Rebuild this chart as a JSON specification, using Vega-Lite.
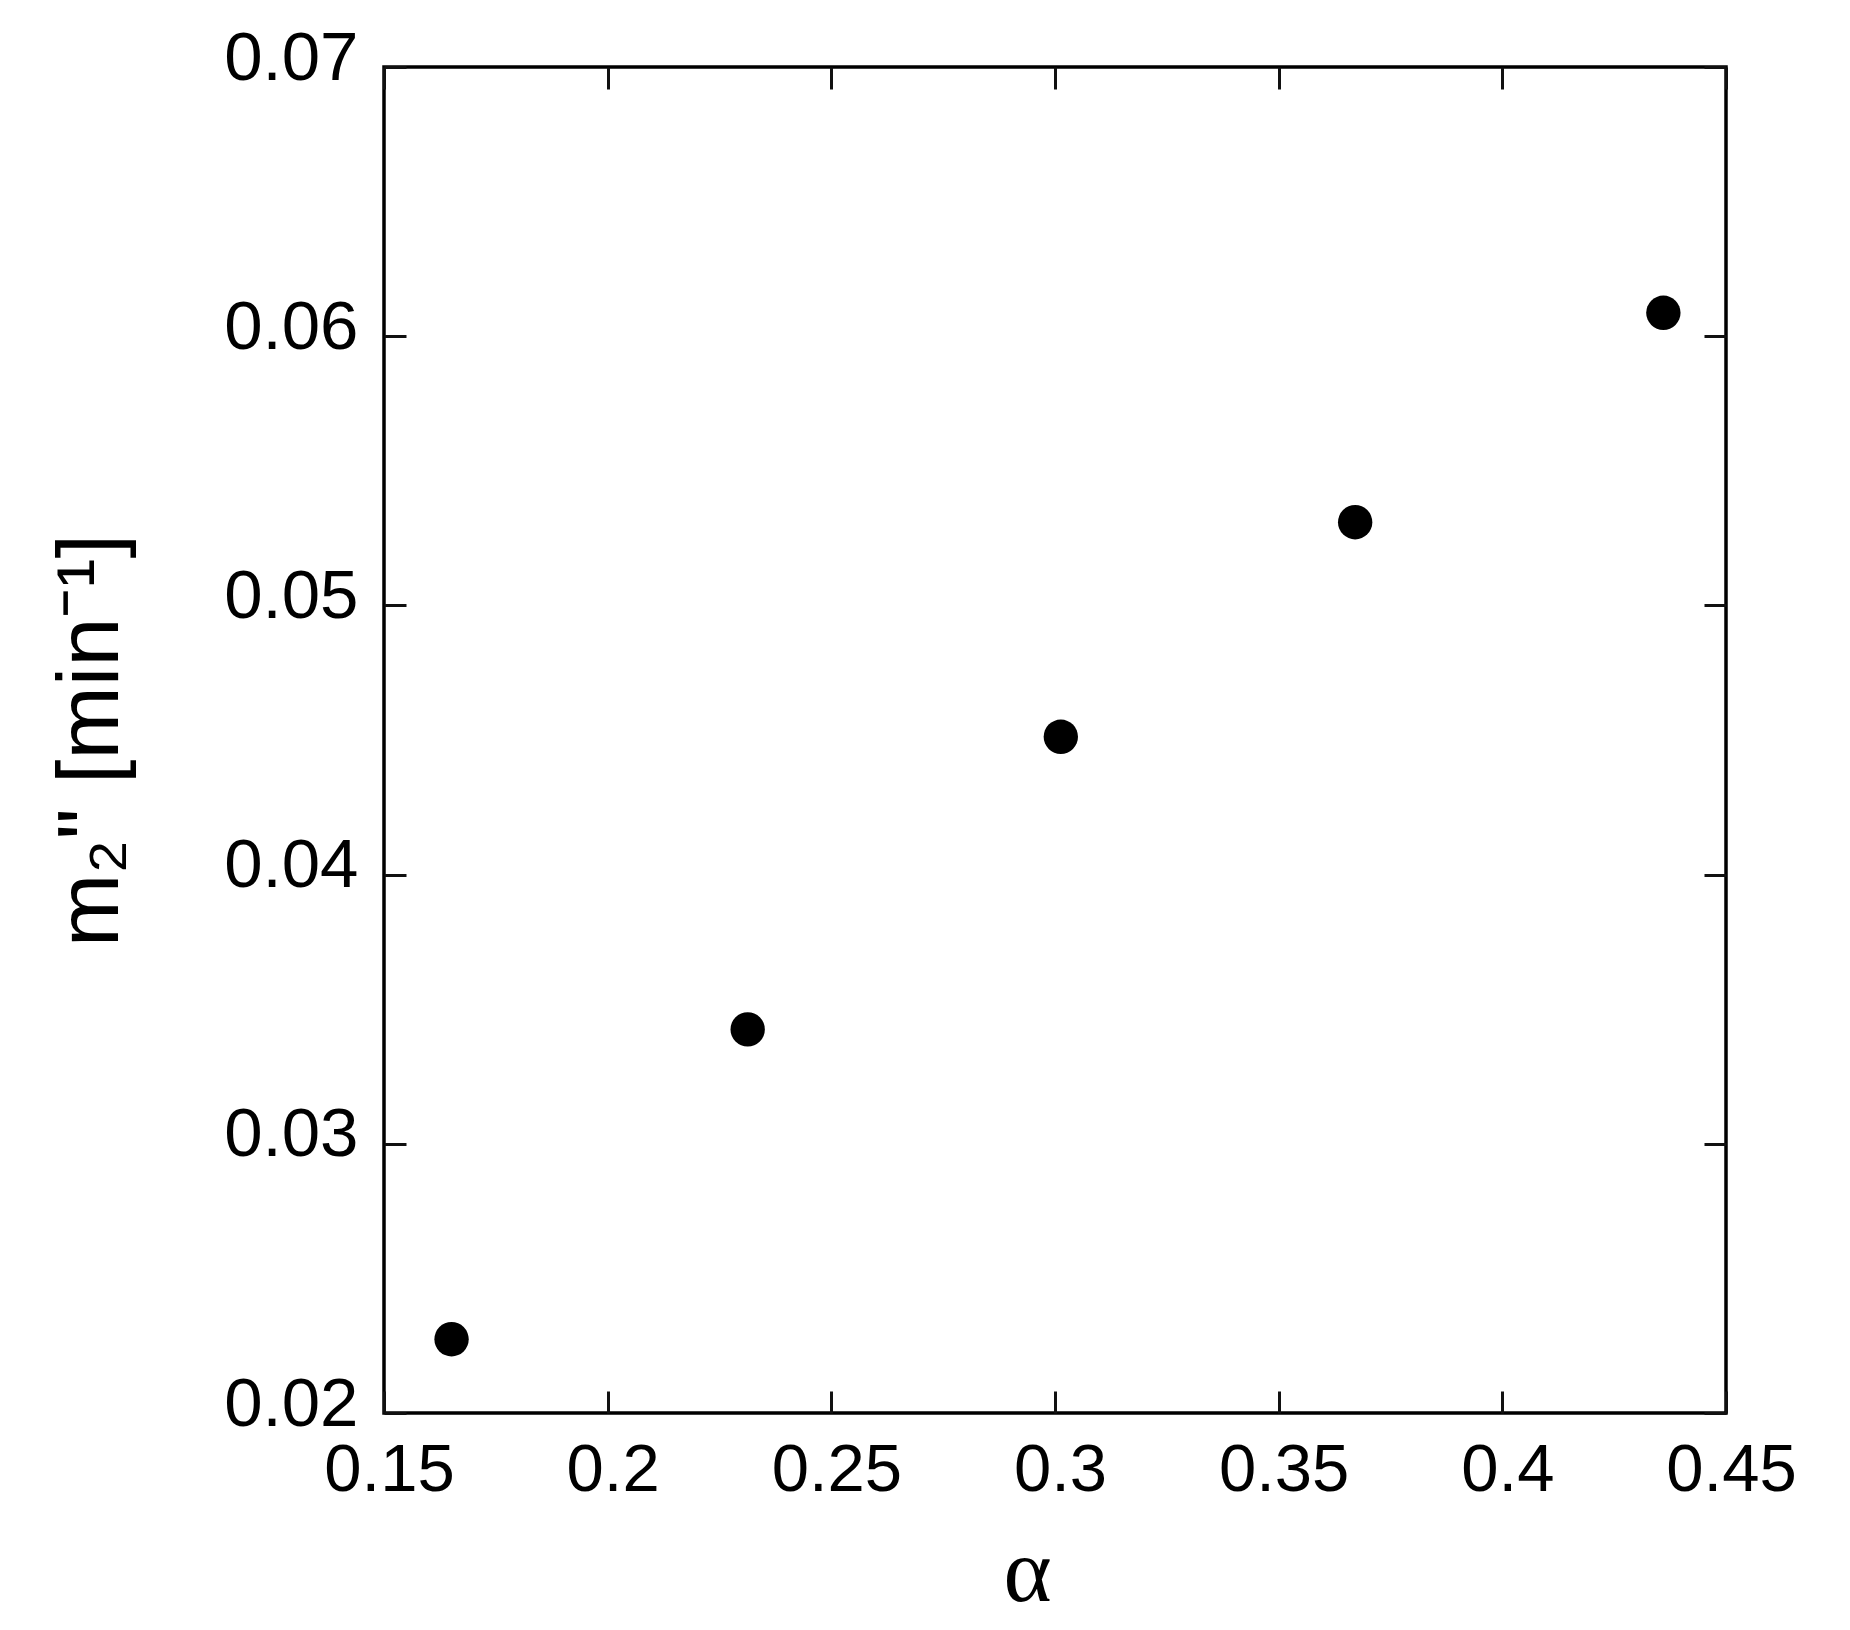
{
  "$schema": "https://vega.github.io/schema/vega-lite/v6.json",
  "autosize": {"type": "none"},
  "padding": {"left": 384, "top": 67, "right": 124, "bottom": 217},
  "width": 1342,
  "height": 1346,
  "background": "white",
  "data": {"values": [
    {"alpha": 0.1651, "m2": 0.02274},
    {"alpha": 0.2313, "m2": 0.03425},
    {"alpha": 0.3013, "m2": 0.04512},
    {"alpha": 0.3671, "m2": 0.05309},
    {"alpha": 0.4360, "m2": 0.06087}
  ]},
  "layer": [
    {
      "mark": {"type": "point", "filled": true, "shape": "circle", "size": 1180, "color": "black", "opacity": 1, "strokeWidth": 0},
      "encoding": {
        "x": {"field": "alpha", "type": "quantitative", "scale": {"domain": [0.15, 0.45], "nice": false, "zero": false},
          "axis": {"orient": "bottom", "title": "α", "values": [0.15, 0.2, 0.25, 0.3, 0.35, 0.4, 0.45], "format": "~g",
            "titleFont": "Liberation Serif", "titleFontSize": 92, "titleFontWeight": "normal", "titlePadding": 24, "titleX": 643,
            "labelFont": "Liberation Sans", "labelFontSize": 67, "labelPadding": 46, "labelOffset": 5, "labelFlush": false,
            "tickSize": -22, "tickWidth": 3, "tickColor": "#111", "domain": false, "grid": false, "labelColor": "black", "titleColor": "black"}},
        "y": {"field": "m2", "type": "quantitative", "scale": {"domain": [0.02, 0.07], "nice": false, "zero": false},
          "axis": {"orient": "left", "title": "m₂\" [min⁻¹]", "values": [0.02, 0.03, 0.04, 0.05, 0.06, 0.07], "format": "~g",
            "titleFont": "Liberation Sans", "titleFontSize": 88, "titleFontWeight": "normal", "titlePadding": 88,
            "labelFont": "Liberation Sans", "labelFontSize": 69, "labelPadding": 48, "labelOffset": -9, "labelFlush": false,
            "tickSize": -22, "tickWidth": 3, "tickColor": "#111", "domain": false, "grid": false, "labelColor": "black", "titleColor": "black"}}
      }
    },
    {
      "mark": {"type": "point", "opacity": 0},
      "encoding": {
        "x": {"field": "alpha", "type": "quantitative", "scale": {"domain": [0.15, 0.45], "nice": false, "zero": false},
          "axis": {"orient": "top", "title": null, "labels": false, "values": [0.15, 0.2, 0.25, 0.3, 0.35, 0.4, 0.45],
            "tickSize": -22, "tickWidth": 3, "tickColor": "#111", "domain": false, "grid": false}},
        "y": {"field": "m2", "type": "quantitative", "scale": {"domain": [0.02, 0.07], "nice": false, "zero": false},
          "axis": {"orient": "right", "title": null, "labels": false, "values": [0.02, 0.03, 0.04, 0.05, 0.06, 0.07],
            "tickSize": -22, "tickWidth": 3, "tickColor": "#111", "domain": false, "grid": false}}
      }
    }
  ],
  "resolve": {"axis": {"x": "independent", "y": "independent"}},
  "config": {"view": {"stroke": "black", "strokeWidth": 3.5}}
}
